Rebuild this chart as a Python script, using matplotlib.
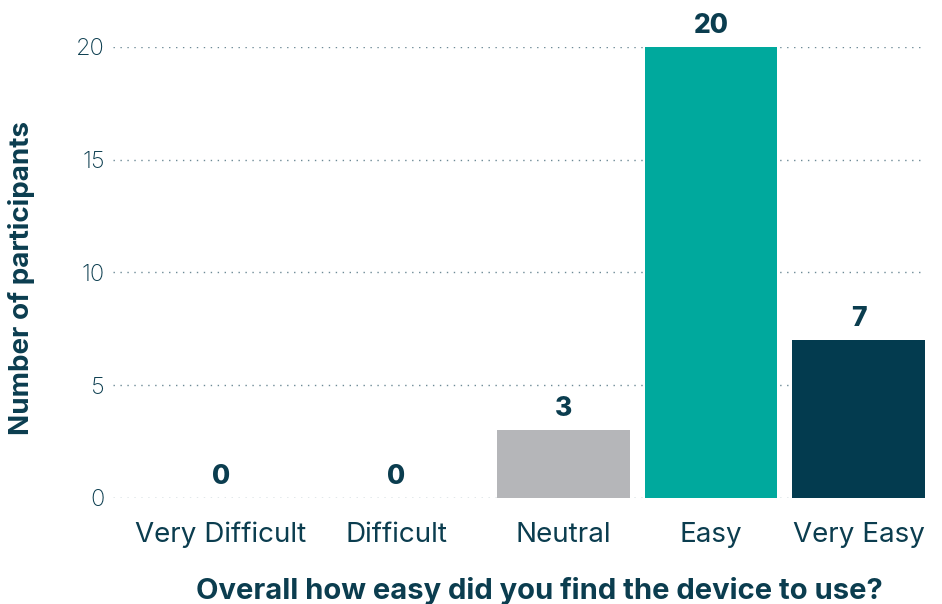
import matplotlib.pyplot as plt

# Survey answers
categories = ['Very Difficult', 'Difficult', 'Neutral', 'Easy', 'Very Easy']
counts = [0, 0, 3, 20, 7]
bar_colors = ['#b5b6b9', '#b5b6b9', '#b5b6b9', '#00a99d', '#033b4f']
y_ticks = [0, 5, 10, 15, 20]

# layout of the category slots (the empty ones sit a bit more to the left)
positions = [-0.32, 0.87, 2, 3, 4]

text_color = '#0b3d4f'
plt.rcParams['font.family'] = ['Inter', 'DejaVu Sans']

fig = plt.figure(figsize=(9.42, 6.04), dpi=100)
ax = fig.add_axes([0.12, 0.1755, 0.862, 0.7467])

ax.bar(positions, counts, width=0.9, color=bar_colors, zorder=2)

for x, v in zip(positions, counts):
    ax.text(x, v + 0.35, str(v), ha='center', va='bottom', fontsize=19,
            fontweight='heavy', color=text_color, clip_on=False)

ax.set_xlim(-1.05, 4.45)
ax.set_ylim(0, 20)
ax.set_yticks(y_ticks)
ax.set_xticks(positions)
ax.set_xticklabels(categories)
ax.tick_params(axis='x', length=0, pad=17, labelsize=20, labelcolor=text_color)
ax.tick_params(axis='y', length=0, pad=6, labelsize=17, labelcolor=text_color)
for lbl in ax.get_yticklabels():
    lbl.set_fontweight('light')

ax.grid(axis='y', linestyle=(0, (1, 4)), color='#6d8a96', linewidth=1, zorder=1)
for s in ax.spines.values():
    s.set_visible(False)

fig.text(0.023, 0.54, 'Number of participants', fontsize=20, fontweight='bold',
         color=text_color, rotation=90, ha='center', va='center')
fig.text(0.573, 0.022, 'Overall how easy did you find the device to use?',
         fontsize=21, fontweight='bold', color=text_color, ha='center', va='center')

fig.savefig('out.png', dpi=100)
